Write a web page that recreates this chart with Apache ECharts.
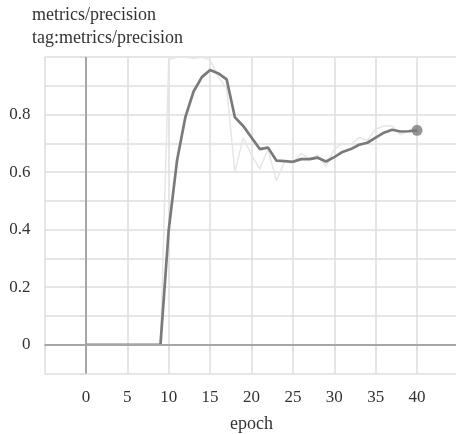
<!DOCTYPE html>
<html>
<head>
<meta charset="utf-8">
<script src="https://cdn.jsdelivr.net/npm/echarts@6/dist/echarts.min.js"></script>
<style>
html,body{margin:0;padding:0;background:#fff;}
#chart{width:456px;height:434px;}
</style>
</head>
<body>
<div id="chart"></div>
<script>
const epochs = [0,1,2,3,4,5,6,7,8,9,10,11,12,13,14,15,16,17,18,19,20,21,22,23,24,25,26,27,28,29,30,31,32,33,34,35,36,37,38,39,40];
const precisionRaw = [0,0,0,0,0,0,0,0,0,0,0.99,1.0,1.0,0.995,1.0,0.99,0.93,0.89,0.60,0.72,0.66,0.61,0.68,0.57,0.635,0.63,0.665,0.645,0.66,0.62,0.68,0.70,0.695,0.72,0.71,0.75,0.76,0.76,0.73,0.745,0.75];
const precisionSmoothed = [0,0,0,0,0,0,0,0,0,0,0.40,0.64,0.79,0.88,0.93,0.955,0.943,0.922,0.79,0.76,0.72,0.68,0.685,0.64,0.638,0.636,0.645,0.645,0.65,0.637,0.652,0.67,0.68,0.695,0.702,0.72,0.737,0.747,0.741,0.742,0.745];
const xTickLabels = ['0','5','10','15','20','25','30','35','40'];
const yTickLabels = ['0','0.2','0.4','0.6','0.8'];

const FONT = "'Liberation Serif', 'DejaVu Serif', serif";
const chart = echarts.init(document.getElementById('chart'), null, {renderer: 'canvas'});
const rawPts = epochs.map((e, i) => [e, precisionRaw[i]]);
const smPts = epochs.map((e, i) => [e, precisionSmoothed[i]]);
const last = epochs.length - 1;

function fmtY(v) {
  const r = Math.round(v * 10) / 10;
  const s = r === 0 ? '0' : String(r);
  return yTickLabels.indexOf(s) >= 0 ? s : '';
}
function fmtX(v) {
  const s = String(Math.round(v));
  return xTickLabels.indexOf(s) >= 0 ? s : '';
}

chart.setOption({
  animation: false,
  backgroundColor: '#ffffff',
  title: [
    {text: 'metrics/precision', left: 32, top: 6, padding: 0, textStyle: {fontFamily: FONT, fontSize: 18, fontWeight: 'normal', color: '#333'}},
    {text: 'tag:metrics/precision', left: 32, top: 29, padding: 0, textStyle: {fontFamily: FONT, fontSize: 18, fontWeight: 'normal', color: '#333'}}
  ],
  grid: {left: 44.6, right: -2.4, top: 57, bottom: 60.5, containLabel: false, outerBoundsMode: 'none'},
  xAxis: {
    type: 'value', min: -5, max: 45, interval: 5,
    name: 'epoch', nameLocation: 'middle', nameGap: 42,
    nameTextStyle: {fontFamily: FONT, fontSize: 18, color: '#333'},
    axisLine: {show: false},
    axisTick: {show: true, length: 6, lineStyle: {color: '#dedede', width: 1.5}},
    axisLabel: {formatter: fmtX, fontFamily: FONT, fontSize: 17, color: '#333', margin: 16},
    splitLine: {show: true, lineStyle: {color: '#dedede', width: 1.5}}
  },
  yAxis: {
    type: 'value', min: -0.1, max: 1.0, interval: 0.1,
    axisLine: {show: false},
    axisTick: {show: true, length: 6, lineStyle: {color: '#dedede', width: 1.5}},
    axisLabel: {formatter: fmtY, fontFamily: FONT, fontSize: 17, color: '#333', margin: 14},
    splitLine: {show: true, lineStyle: {color: '#dedede', width: 1.5}}
  },
  series: [
    {
      type: 'line', data: rawPts, showSymbol: false, z: 2,
      lineStyle: {color: '#e6e6e6', width: 1.5},
      markLine: {
        silent: true, symbol: 'none', label: {show: false},
        lineStyle: {color: '#a6a6a6', width: 2, type: 'solid'},
        data: [{xAxis: 0}, {yAxis: 0}]
      }
    },
    {
      type: 'line', data: smPts, showSymbol: false, z: 4,
      lineStyle: {color: '#7a7a7a', width: 2.7}
    },
    {
      type: 'scatter', data: [smPts[last]], z: 5,
      symbol: 'circle', symbolSize: 11,
      itemStyle: {color: '#7a7a7a'}
    }
  ]
});
</script>
</body>
</html>
